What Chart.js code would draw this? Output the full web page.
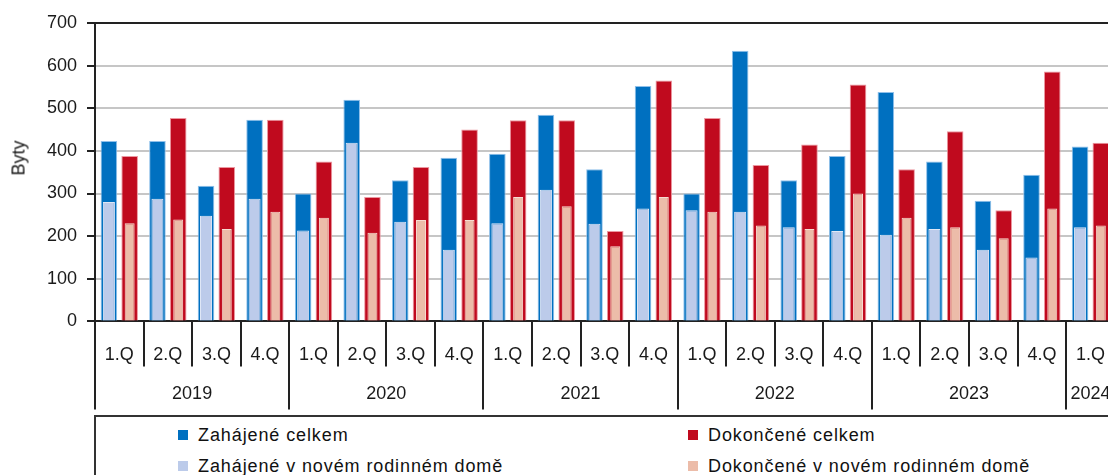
<!DOCTYPE html>
<html>
<head>
<meta charset="utf-8">
<script src="https://cdn.jsdelivr.net/npm/chart.js@4.4.1/dist/chart.umd.min.js"></script>
<style>
  html, body { margin: 0; padding: 0; background: #fff; overflow: hidden; width: 1108px; height: 475px; }
  #wrap { position: absolute; left: 0; top: 0; width: 1120px; height: 412px; }
  #ytitle { position: absolute; left: 19px; top: 158px; transform: translate(-50%, -50%) rotate(-90deg);
    font: 18px "Liberation Sans", Arial, sans-serif; color: #1a1a1a; white-space: nowrap; }
  #legend { position: absolute; left: 94px; top: 415px; width: 1100px; height: 80px;
    border-top: 2px solid #333; border-left: 2px solid #333; box-sizing: border-box; }
  .li { position: absolute; font: 18px "Liberation Sans", Arial, sans-serif; color: #111; letter-spacing: 0.9px; white-space: nowrap; line-height: 20px; }
  .li span { display: inline-block; width: 10px; height: 10px; margin-right: 10px; vertical-align: 1px; }
</style>
</head>
<body>
<div id="wrap"><canvas id="c"></canvas></div>
<div id="ytitle">Byty</div>
<div id="legend"></div>
<script>
const quarterLabels = ['1.Q','2.Q','3.Q','4.Q','1.Q','2.Q','3.Q','4.Q','1.Q','2.Q','3.Q','4.Q','1.Q','2.Q','3.Q','4.Q','1.Q','2.Q','3.Q','4.Q','1.Q'];
const yearLabels = ['2019','2020','2021','2022','2023','2024'];
const yearQuarterCounts = [4,4,4,4,4,1];
const zahajeneCelkem  = [423,423,318,473, 300,520,331,384, 393,485,357,552, 300,635,331,388, 538,375,283,344, 410];
const dokonceneCelkem = [388,477,362,473, 375,292,362,450, 472,472,212,565, 477,367,415,556, 357,446,261,586, 419];
const zahajeneRD      = [280,288,248,288, 213,419,234,168, 230,309,229,265, 261,257,221,212, 203,217,168,150, 221];
const dokonceneRD     = [230,239,217,257, 243,208,238,238, 292,270,176,292, 257,225,217,300, 243,221,195,265, 225];
const seriesNames = ['Zahájené celkem','Dokončené celkem','Zahájené v novém rodinném domě','Dokončené v novém rodinném domě'];
const yTicks = [0,100,200,300,400,500,600,700];

const C = { blue:'#0070c0', blueB:'#8fc0ea', red:'#c00a1e', redB:'#ec97a0', lblue:'#bccbea', lblueB:'#dfe7f6', salmon:'#ecbca9', salmonB:'#f6dcd2' };

const axisPlugin = {
  id: 'axisDecor',
  afterDraw(chart) {
    const x = chart.scales.x, ctx = chart.ctx;
    const w = x.getPixelForValue(1) - x.getPixelForValue(0);
    ctx.save();
    ctx.strokeStyle = '#222'; ctx.lineWidth = 2;
    for (let i = 0; i <= quarterLabels.length; i++) {
      const px = Math.round(x.getPixelForValue(0) - w / 2 + i * w);
      ctx.beginPath(); ctx.moveTo(px, x.top); ctx.lineTo(px, x.top + 45); ctx.stroke();
    }
    ctx.font = '18px "Liberation Sans", Arial, sans-serif';
    ctx.fillStyle = '#1a1a1a'; ctx.textAlign = 'center'; ctx.textBaseline = 'middle';
    let start = 0, right = 0;
    yearLabels.forEach((yr, i) => {
      const cnt = yearQuarterCounts[i];
      const left = x.getPixelForValue(start) - w / 2;
      right = x.getPixelForValue(start + cnt - 1) + w / 2;
      ctx.beginPath(); ctx.moveTo(Math.round(left), x.top); ctx.lineTo(Math.round(left), x.top + 88); ctx.stroke();
      ctx.fillText(yr, (left + right) / 2, x.top + 73);
      start += cnt;
    });
    ctx.beginPath(); ctx.moveTo(Math.round(right), x.top); ctx.lineTo(Math.round(right), x.top + 88); ctx.stroke();
    ctx.restore();
  }
};

new Chart(document.getElementById('c'), {
  type: 'bar',
  data: {
    labels: quarterLabels,
    datasets: [
      { label: seriesNames[2], data: zahajeneRD, stack: 'z', backgroundColor: C.lblue, borderColor: C.lblueB, borderWidth: 1, categoryPercentage: 0.855, barPercentage: 0.58 },
      { label: seriesNames[3], data: dokonceneRD, stack: 'd', backgroundColor: C.salmon, borderColor: C.salmonB, borderWidth: 1, categoryPercentage: 0.855, barPercentage: 0.48 },
      { label: seriesNames[0], data: zahajeneCelkem, stack: 'z', backgroundColor: C.blue, borderColor: C.blueB, borderWidth: 1, categoryPercentage: 0.855, barPercentage: 0.8 },
      { label: seriesNames[1], data: dokonceneCelkem, stack: 'd', backgroundColor: C.red, borderColor: C.redB, borderWidth: 1, categoryPercentage: 0.855, barPercentage: 0.8 }
    ]
  },
  options: {
    responsive: true, maintainAspectRatio: false, animation: false,
    layout: { padding: { top: 23, right: 2, bottom: 31, left: 0 } },
    plugins: { legend: { display: false }, tooltip: { enabled: false } },
    scales: {
      x: {
        type: 'category', offset: true,
        grid: { display: false },
        border: { display: true, color: '#222', width: 2 },
        ticks: { padding: 15, autoSkip: false, maxRotation: 0, color: '#1a1a1a', font: { family: '"Liberation Sans", Arial, sans-serif', size: 18 } }
      },
      y: {
        min: 0, max: 700, stacked: false,
        afterBuildTicks(s) { s.ticks = yTicks.map(v => ({ value: v })); },
        afterFit(s) { s.width = 95; },
        grid: {
          color: c => (c.tick && c.tick.value === 700) ? '#222' : '#c6c6c6',
          lineWidth: 2,
          tickColor: '#222', tickLength: 8, drawTicks: true
        },
        border: { display: true, color: '#222', width: 2 },
        ticks: { padding: 10, color: '#1a1a1a', font: { family: '"Liberation Sans", Arial, sans-serif', size: 18 } }
      }
    }
  },
  plugins: [axisPlugin]
});

const lg = document.getElementById('legend');
const items = [
  { name: seriesNames[0], color: C.blue, x: 82, y: 8 },
  { name: seriesNames[1], color: C.red, x: 592, y: 8 },
  { name: seriesNames[2], color: C.lblue, x: 82, y: 39 },
  { name: seriesNames[3], color: C.salmon, x: 592, y: 39 }
];
items.forEach(it => {
  const d = document.createElement('div');
  d.className = 'li';
  d.style.left = it.x + 'px'; d.style.top = it.y + 'px';
  const s = document.createElement('span'); s.style.background = it.color;
  d.appendChild(s); d.appendChild(document.createTextNode(it.name));
  lg.appendChild(d);
});
</script>
</body>
</html>
